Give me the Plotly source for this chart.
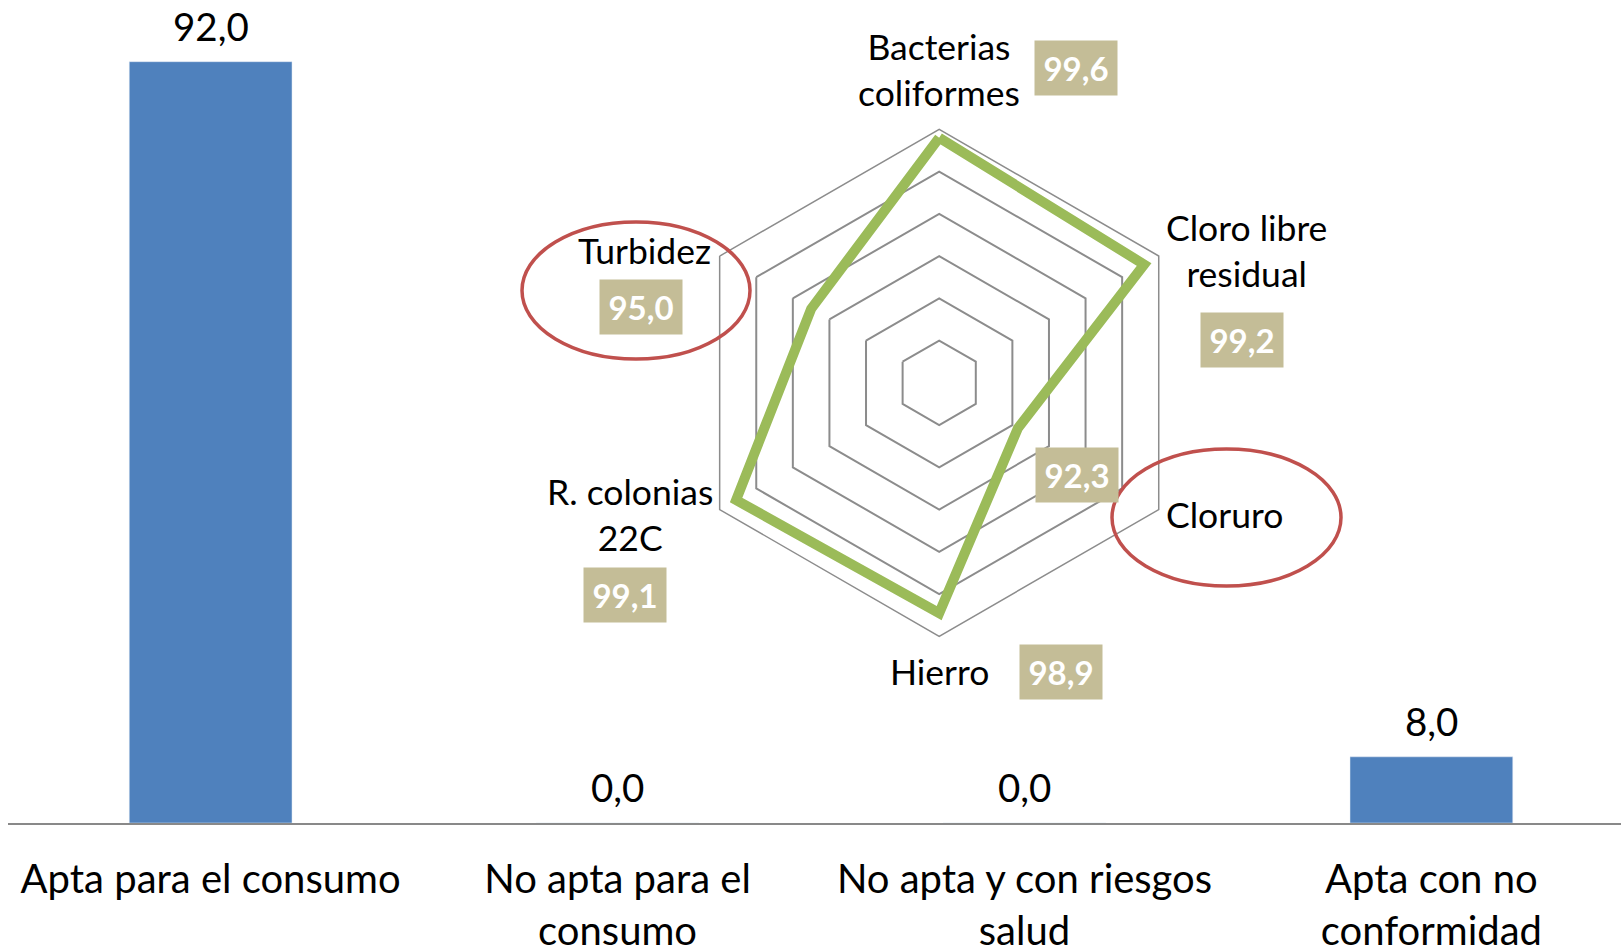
import plotly.graph_objects as go

# bar chart data
categorias = ["Apta para el consumo", "No apta para el consumo",
              "No apta y con riesgos salud", "Apta con no conformidad"]
etiquetas_cat = ["Apta para el consumo", "No apta para el<br>consumo",
                 "No apta y con riesgos<br>salud", "Apta con no<br>conformidad"]
porcentajes = [92.0, 0.0, 0.0, 8.0]

# radar data
parametros = ["Bacterias coliformes", "Cloro libre residual", "Cloruro",
              "Hierro", "R. colonias 22C", "Turbidez"]
etiquetas_param = ["Bacterias<br>coliformes", "Cloro libre<br>residual", "Cloruro",
                   "Hierro", "R. colonias<br>22C", "Turbidez"]
cumplimiento = [99.6, 99.2, 92.3, 98.9, 99.1, 95.0]

W, H = 1621, 947
B = 124
PH = H - B


def px(x):
    return x / W


def py(y):
    return 1 - y / PH


def fmt(v):
    return f"{v:.1f}".replace(".", ",")


fig = go.Figure()

fig.add_trace(go.Bar(x=list(range(len(categorias))), y=porcentajes,
                     marker_color="#4F81BD", width=0.4, showlegend=False))

fig.add_trace(go.Scatterpolar(
    r=cumplimiento + cumplimiento[:1],
    theta=parametros + parametros[:1],
    mode="lines", line=dict(color="#9BBB59", width=10),
    showlegend=False))

# bar value labels
for i, v in enumerate(porcentajes):
    fig.add_annotation(x=i, y=v, xref="x", yref="y", text=fmt(v),
                       showarrow=False, yanchor="bottom", yshift=11,
                       font=dict(size=38.5, color="black"))

# radar parameter names (centre in pixels)
nombre_pos = [(939, 70), (1246, 250), (1224, 514), (939, 671), (630, 514), (644, 250)]
for t, (cx, cy) in zip(etiquetas_param, nombre_pos):
    fig.add_annotation(x=px(cx), y=py(cy), xref="paper", yref="paper",
                       text=t, showarrow=False, xanchor="center", yanchor="middle",
                       font=dict(size=35.5, color="black"))

# radar value boxes (centre in pixels)
caja_pos = [(1076, 68), (1242, 340), (1077, 475), (1061, 672), (625, 595), (641, 307)]
for v, (cx, cy) in zip(cumplimiento, caja_pos):
    fig.add_annotation(x=px(cx), y=py(cy), xref="paper", yref="paper",
                       text="<b>" + fmt(v) + "</b>", showarrow=False,
                       xanchor="center", yanchor="middle",
                       width=80, height=52, borderpad=1,
                       bgcolor="#C4BD97", font=dict(size=33, color="white"))

# red ellipses
for x0, y0, x1, y1 in [(522, 222, 750, 359), (1112, 449, 1341, 586)]:
    fig.add_shape(type="circle", xref="paper", yref="paper",
                  x0=px(x0), x1=px(x1), y0=py(y1), y1=py(y0),
                  line=dict(color="#C0504D", width=3.5))

cx, cy, R = 939.2, 382.8, 253.5
fig.update_layout(
    width=W, height=H,
    margin=dict(l=0, r=0, t=0, b=B, autoexpand=False),
    paper_bgcolor="white", plot_bgcolor="white",
    font=dict(family="Lato, 'Open Sans', sans-serif", color="black"),
    xaxis=dict(domain=[px(8), 1], range=[-0.498, 3.466], automargin=False,
               tickvals=list(range(len(categorias))), ticktext=etiquetas_cat,
               tickfont=dict(size=40), showline=True, linecolor="#898989",
               linewidth=2, showgrid=False, zeroline=False, ticks="",
               ticklabelstandoff=20),
    yaxis=dict(range=[0, PH / 8.275], visible=False, automargin=False),
    polar=dict(
        domain=dict(x=[px(cx - R), px(cx + R)], y=[py(cy + R), py(cy - R)]),
        gridshape="linear", bgcolor="rgba(0,0,0,0)",
        radialaxis=dict(range=[88, 100], tick0=88, dtick=2, showticklabels=False,
                        ticks="", showline=False, gridcolor="#8C8C8C", gridwidth=1.5),
        angularaxis=dict(rotation=90, direction="clockwise",
                         categoryarray=parametros, showticklabels=False,
                         showgrid=False, showline=True, linecolor="#8C8C8C",
                         linewidth=1.5, ticks=""),
    ),
)

fig.write_html("out.html", config={"displayModeBar": False},
               post_script="document.body.style.margin='0';")
